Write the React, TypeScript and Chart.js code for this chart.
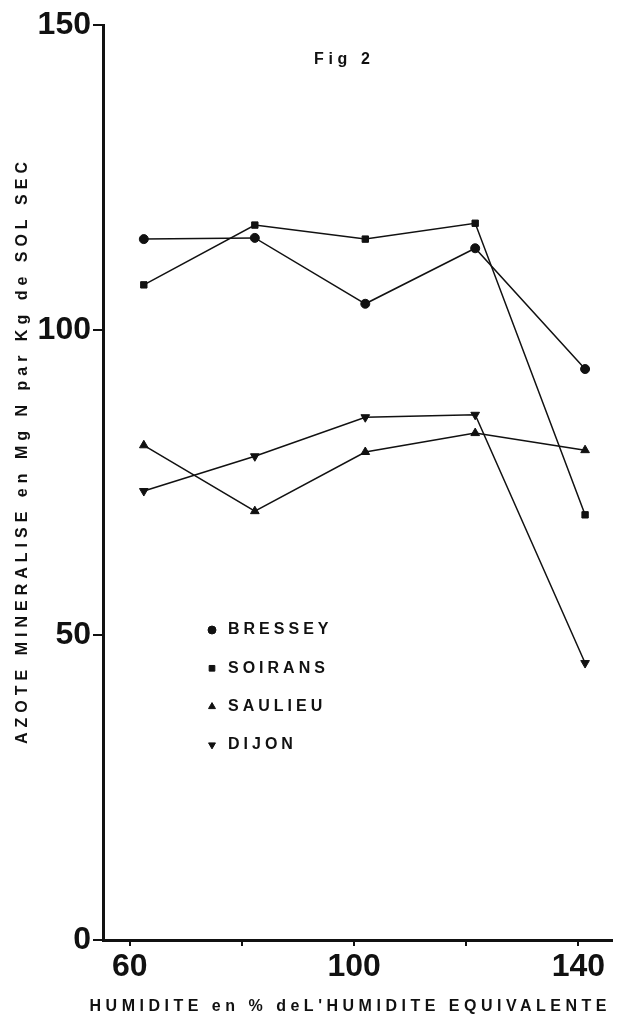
import React, { useEffect, useRef } from 'react';
import { Chart, registerables } from 'chart.js';
import { drawPoint } from 'chart.js/helpers';

Chart.register(...registerables);

// ---- data ----
const HUMIDITY = [62.5, 82.3, 102, 121.6, 141.2];
const BRESSEY = [114.9, 115.1, 104.3, 113.4, 93.6];
const SOIRANS = [107.4, 117.2, 114.9, 117.5, 69.7];
const SAULIEU = [81.1, 70.3, 80.0, 83.1, 80.3];
const DIJON = [73.6, 79.3, 85.7, 86.1, 45.4];

const SERIES_NAMES = ['BRESSEY', 'SOIRANS', 'SAULIEU', 'DIJON'];
const X_TICKS = [60, 80, 100, 120, 140];
const X_TICK_LABELS = ['60', '', '100', '', '140'];
const Y_TICKS = [0, 50, 100, 150];
const Y_TICK_LABELS = ['0', '50', '100', '150'];

const FIG_TITLE = 'Fig 2';
const Y_TITLE = 'AZOTE MINERALISE en Mg N par Kg de SOL SEC';
const X_TITLE = "HUMIDITE en % deL'HUMIDITE EQUIVALENTE";

const INK = '#111';
const TICK_FONT_FAMILY = '"Liberation Sans", Arial, sans-serif';
const TEXT_FONT_FAMILY = '"Liberation Sans", Arial, sans-serif';

const POINT_STYLES = [
  { pointStyle: 'circle', rotation: 0 },
  { pointStyle: 'rect', rotation: 0 },
  { pointStyle: 'triangle', rotation: 0 },
  { pointStyle: 'triangle', rotation: 180 },
];

function drawSpaced(ctx: CanvasRenderingContext2D, text: string, cx: number, cy: number, target: number, font: string) {
  ctx.font = font;
  (ctx as any).letterSpacing = '0px';
  const w = ctx.measureText(text).width;
  const sp = Math.max(0, (target - w) / (text.length - 1));
  (ctx as any).letterSpacing = sp + 'px';
  ctx.textAlign = 'left';
  ctx.textBaseline = 'middle';
  ctx.fillText(text, cx - target / 2, cy);
}

const paperText = {
  id: 'paperText',
  afterDraw(chart: any) {
    const ctx: CanvasRenderingContext2D = chart.ctx;
    ctx.save();
    ctx.fillStyle = INK;

    // Figure label
    drawSpaced(ctx, FIG_TITLE, 342, 60, 56, `bold 16px ${TEXT_FONT_FAMILY}`);

    // X axis title
    drawSpaced(ctx, X_TITLE, 348, 1007, 517, `bold 16px ${TEXT_FONT_FAMILY}`);

    // Y axis title (rotated)
    ctx.save();
    ctx.translate(23, 453);
    ctx.rotate(-Math.PI / 2);
    drawSpaced(ctx, Y_TITLE, 0, 0, 582, `bold 16px ${TEXT_FONT_FAMILY}`);
    ctx.restore();

    // Legend inside the plot
    chart.data.datasets.forEach((ds: any, i: number) => {
      const y = 630 + i * 38.3;
      ctx.fillStyle = INK;
      ctx.strokeStyle = INK;
      drawPoint(ctx, { pointStyle: ds.pointStyle, rotation: ds.rotation || 0, radius: 4, borderWidth: 1 } as any, 212, y);
      ctx.font = `bold 16px ${TEXT_FONT_FAMILY}`;
      (ctx as any).letterSpacing = '4px';
      ctx.textAlign = 'left';
      ctx.textBaseline = 'middle';
      ctx.fillText(ds.label, 228, y);
    });
    ctx.restore();
  },
};

export default function App() {
  const canvasRef = useRef<HTMLCanvasElement | null>(null);

  useEffect(() => {
    if (!canvasRef.current) return;
    const seriesValues = [BRESSEY, SOIRANS, SAULIEU, DIJON];
    const datasets = seriesValues.map((vals, i) => ({
      label: SERIES_NAMES[i],
      data: HUMIDITY.map((x, j) => ({ x, y: vals[j] })),
      borderColor: INK,
      backgroundColor: INK,
      borderWidth: 1.5,
      pointStyle: POINT_STYLES[i].pointStyle,
      rotation: POINT_STYLES[i].rotation,
      pointRadius: i >= 2 ? 5 : 4.5,
      pointBorderWidth: 1,
      pointBackgroundColor: INK,
      pointBorderColor: INK,
      tension: 0,
      fill: false,
    }));

    const chart = new Chart(canvasRef.current, {
      type: 'line',
      data: { datasets: datasets as any },
      plugins: [paperText],
      options: {
        responsive: false,
        animation: false,
        events: [],
        layout: { padding: { top: 25, right: 2, bottom: 0, left: 0 } },
        plugins: {
          legend: { display: false },
          tooltip: { enabled: false },
          title: { display: false },
        },
        scales: {
          x: {
            type: 'linear',
            min: 55.22,
            max: 146.0,
            afterBuildTicks: (s: any) => {
              s.ticks = X_TICKS.map((v) => ({ value: v }));
            },
            afterFit: (s: any) => {
              s.height = 85;
            },
            ticks: {
              autoSkip: false,
              maxRotation: 0,
              padding: 2,
              color: INK,
              font: { family: TICK_FONT_FAMILY, size: 32, weight: 'bold' },
              callback: (_v: any, idx: number) => X_TICK_LABELS[idx],
            },
            grid: { drawOnChartArea: false, drawTicks: true, tickLength: 6, color: INK, lineWidth: 2 },
            border: { display: true, color: INK, width: 3 },
          },
          y: {
            type: 'linear',
            min: 0,
            max: 150,
            afterBuildTicks: (s: any) => {
              s.ticks = Y_TICKS.map((v) => ({ value: v }));
            },
            afterFit: (s: any) => {
              s.width = 103;
            },
            ticks: {
              autoSkip: false,
              padding: 2,
              color: INK,
              font: { family: TICK_FONT_FAMILY, size: 32, weight: 'bold' },
              callback: (_v: any, idx: number) => Y_TICK_LABELS[idx],
            },
            grid: { drawOnChartArea: false, drawTicks: true, tickLength: 10, color: INK, lineWidth: 2 },
            border: { display: true, color: INK, width: 3 },
          },
        },
      } as any,
    });

    return () => chart.destroy();
  }, []);

  return (
    <div style={{ position: 'fixed', left: 0, top: 0, width: 618, height: 1025, background: '#fff' }}>
      <canvas ref={canvasRef} width={618} height={1025} style={{ display: 'block', width: 618, height: 1025 }} />
    </div>
  );
}
